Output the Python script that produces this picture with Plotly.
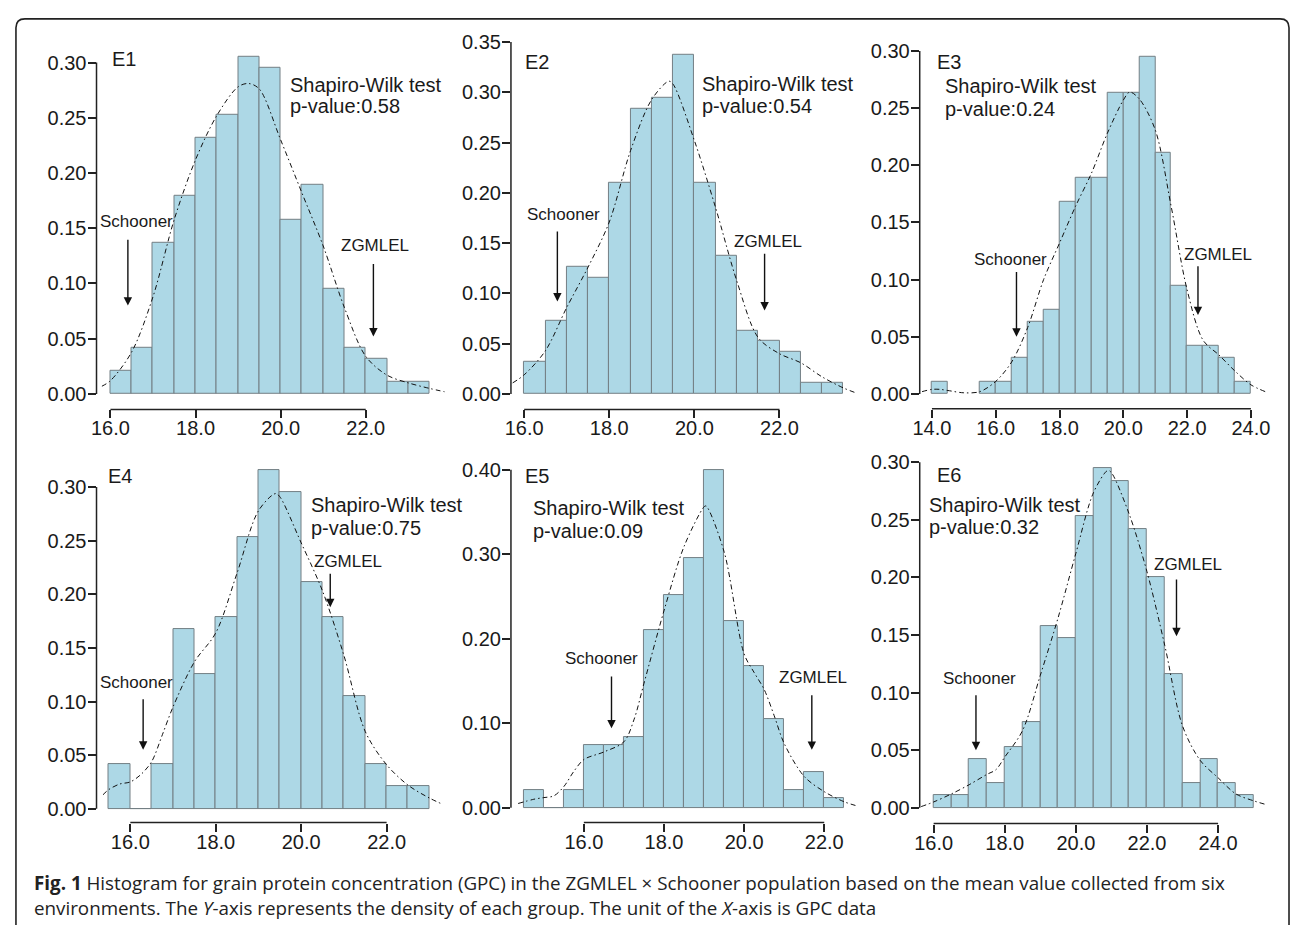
import plotly.graph_objects as go

# ---------------- data ----------------
BIN_WIDTH = 0.5

e1_bin_left = [16.0, 16.5, 17.0, 17.5, 18.0, 18.5, 19.0, 19.5, 20.0, 20.5, 21.0, 21.5, 22.0, 22.5, 23.0]
e1_density = [0.021, 0.042, 0.137, 0.179, 0.232, 0.253, 0.305, 0.295, 0.158, 0.189, 0.095, 0.042, 0.032, 0.011, 0.011]
e1_curve_x = [15.8, 16.0, 16.5, 17.0, 17.5, 18.0, 18.5, 19.0, 19.25, 19.5, 20.0, 20.5, 21.0, 21.5, 22.0, 22.5, 23.0, 23.5, 23.85]
e1_curve_y = [0.007, 0.012, 0.038, 0.088, 0.158, 0.212, 0.252, 0.278, 0.281, 0.276, 0.230, 0.182, 0.134, 0.078, 0.034, 0.017, 0.010, 0.005, 0.002]

e2_bin_left = [16.0, 16.5, 17.0, 17.5, 18.0, 18.5, 19.0, 19.5, 20.0, 20.5, 21.0, 21.5, 22.0, 22.5, 23.0]
e2_density = [0.032, 0.073, 0.126, 0.116, 0.210, 0.284, 0.295, 0.337, 0.210, 0.137, 0.063, 0.053, 0.042, 0.011, 0.011]
e2_curve_x = [15.73, 16.0, 16.5, 17.0, 17.5, 18.0, 18.5, 19.0, 19.4, 19.5, 20.0, 20.5, 21.0, 21.5, 22.0, 22.5, 23.0, 23.5, 23.8]
e2_curve_y = [0.011, 0.019, 0.043, 0.086, 0.126, 0.171, 0.242, 0.293, 0.311, 0.308, 0.252, 0.185, 0.112, 0.056, 0.040, 0.031, 0.017, 0.006, 0.001]

e3_bin_left = [14.0, 15.5, 16.0, 16.5, 17.0, 17.5, 18.0, 18.5, 19.0, 19.5, 20.0, 20.5, 21.0, 21.5, 22.0, 22.5, 23.0, 23.5]
e3_density = [0.011, 0.011, 0.011, 0.032, 0.063, 0.074, 0.168, 0.189, 0.189, 0.263, 0.263, 0.295, 0.211, 0.095, 0.042, 0.042, 0.032, 0.011]
e3_curve_x = [13.69, 14.0, 14.25, 14.5, 15.0, 15.5, 16.0, 16.5, 17.0, 17.5, 18.0, 18.5, 19.0, 19.5, 20.0, 20.2, 20.5, 21.0, 21.5, 22.0, 22.5, 23.0, 23.5, 24.0, 24.45]
e3_curve_y = [0.002, 0.004, 0.004, 0.003, 0.001, 0.002, 0.011, 0.028, 0.058, 0.100, 0.132, 0.164, 0.193, 0.228, 0.257, 0.264, 0.258, 0.231, 0.164, 0.091, 0.047, 0.034, 0.020, 0.008, 0.002]

e4_bin_left = [15.5, 16.0, 16.5, 17.0, 17.5, 18.0, 18.5, 19.0, 19.5, 20.0, 20.5, 21.0, 21.5, 22.0, 22.5]
e4_density = [0.042, 0.0, 0.042, 0.168, 0.126, 0.179, 0.253, 0.316, 0.295, 0.211, 0.179, 0.105, 0.042, 0.021, 0.021]
e4_curve_x = [15.36, 15.5, 15.75, 16.0, 16.25, 16.5, 16.75, 17.0, 17.5, 18.0, 18.5, 19.0, 19.4, 19.5, 20.0, 20.5, 21.0, 21.5, 22.0, 22.5, 23.0, 23.32]
e4_curve_y = [0.013, 0.018, 0.023, 0.025, 0.032, 0.044, 0.069, 0.095, 0.137, 0.164, 0.220, 0.278, 0.294, 0.291, 0.248, 0.203, 0.143, 0.072, 0.041, 0.022, 0.010, 0.004]

e5_bin_left = [14.5, 15.0, 15.5, 16.0, 16.5, 17.0, 17.5, 18.0, 18.5, 19.0, 19.5, 20.0, 20.5, 21.0, 21.5, 22.0]
e5_density = [0.021, 0.0, 0.021, 0.074, 0.074, 0.084, 0.210, 0.252, 0.295, 0.400, 0.221, 0.168, 0.105, 0.021, 0.042, 0.011]
e5_curve_x = [14.36, 14.75, 15.0, 15.25, 15.5, 15.75, 16.0, 16.5, 17.0, 17.25, 17.5, 18.0, 18.5, 19.0, 19.05, 19.5, 20.0, 20.25, 20.5, 20.75, 21.0, 21.5, 22.0, 22.5, 22.83]
e5_curve_y = [0.005, 0.010, 0.012, 0.014, 0.025, 0.043, 0.057, 0.066, 0.078, 0.104, 0.147, 0.233, 0.309, 0.356, 0.357, 0.303, 0.182, 0.160, 0.140, 0.109, 0.076, 0.037, 0.019, 0.007, 0.002]

e6_bin_left = [16.0, 16.5, 17.0, 17.5, 18.0, 18.5, 19.0, 19.5, 20.0, 20.5, 21.0, 21.5, 22.0, 22.5, 23.0, 23.5, 24.0, 24.5]
e6_density = [0.011, 0.011, 0.042, 0.021, 0.053, 0.074, 0.158, 0.147, 0.253, 0.295, 0.284, 0.242, 0.200, 0.116, 0.021, 0.042, 0.021, 0.011]
e6_curve_x = [15.65, 16.0, 16.5, 17.0, 17.5, 17.75, 18.0, 18.5, 19.0, 19.5, 20.0, 20.5, 20.9, 21.0, 21.5, 22.0, 22.5, 23.0, 23.5, 24.0, 24.5, 25.0, 25.32]
e6_curve_y = [0.001, 0.005, 0.012, 0.020, 0.029, 0.033, 0.044, 0.067, 0.115, 0.165, 0.221, 0.274, 0.293, 0.291, 0.255, 0.205, 0.141, 0.071, 0.041, 0.026, 0.012, 0.006, 0.003]

panel_names = ["E1", "E2", "E3", "E4", "E5", "E6"]
p_values = ["0.58", "0.54", "0.24", "0.75", "0.09", "0.32"]
x_ticks = [
    [16.0, 18.0, 20.0, 22.0],
    [16.0, 18.0, 20.0, 22.0],
    [14.0, 16.0, 18.0, 20.0, 22.0, 24.0],
    [16.0, 18.0, 20.0, 22.0],
    [16.0, 18.0, 20.0, 22.0],
    [16.0, 18.0, 20.0, 22.0, 24.0],
]
y_ticks = [
    [0.00, 0.05, 0.10, 0.15, 0.20, 0.25, 0.30],
    [0.00, 0.05, 0.10, 0.15, 0.20, 0.25, 0.30, 0.35],
    [0.00, 0.05, 0.10, 0.15, 0.20, 0.25, 0.30],
    [0.00, 0.05, 0.10, 0.15, 0.20, 0.25, 0.30],
    [0.00, 0.10, 0.20, 0.30, 0.40],
    [0.00, 0.05, 0.10, 0.15, 0.20, 0.25, 0.30],
]
bins = [e1_bin_left, e2_bin_left, e3_bin_left, e4_bin_left, e5_bin_left, e6_bin_left]
dens = [e1_density, e2_density, e3_density, e4_density, e5_density, e6_density]
curves_x = [e1_curve_x, e2_curve_x, e3_curve_x, e4_curve_x, e5_curve_x, e6_curve_x]
curves_y = [e1_curve_y, e2_curve_y, e3_curve_y, e4_curve_y, e5_curve_y, e6_curve_y]

caption_line1 = "<b>Fig. 1</b> Histogram for grain protein concentration (GPC) in the ZGMLEL × Schooner population based on the mean value collected from six"
caption_line2 = "environments. The <i>Y</i>-axis represents the density of each group. The unit of the <i>X</i>-axis is GPC data"

# ---------------- layout (pixel boxes and axis calibration) ----------------
W, H = 1290, 925
layout_cfg = [
    # box: (left, right, top, bottom) px ; xcal/ycal: (value_a, px_a, value_b, px_b)
    dict(box=(90, 446, 25, 405), xcal=(16, 104, 22, 360.7), ycal=(0, 389.3, 0.30, 55.0),
         label=(15.98, 0.303), sw=(20.18, 0.280, 0.261),
         sch_text=(16.61, 0.156), sch_arrow=(16.41, 0.141, 0.080),
         zg_text=(22.21, 0.134), zg_arrow=(22.18, 0.119, 0.052)),
    dict(box=(506.7, 862, 25, 405), xcal=(16, 520, 22, 776.7), ycal=(0, 389.3, 0.35, 34.3),
         label=(15.98, 0.330), sw=(20.14, 0.308, 0.286),
         sch_text=(16.93, 0.178), sch_arrow=(16.78, 0.163, 0.092),
         zg_text=(21.72, 0.152), zg_arrow=(21.65, 0.141, 0.083)),
    dict(box=(917.7, 1282, 25, 404.3), xcal=(14, 930, 24, 1250.7), ycal=(0, 389.3, 0.30, 43.3),
         label=(14.08, 0.290), sw=(14.36, 0.269, 0.249),
         sch_text=(16.45, 0.118), sch_arrow=(16.65, 0.108, 0.050),
         zg_text=(22.96, 0.122), zg_arrow=(22.34, 0.113, 0.069)),
    dict(box=(90, 446, 455, 821.7), xcal=(16, 124, 22, 381.7), ycal=(0, 807.7, 0.30, 483.3),
         label=(15.44, 0.310), sw=(20.18, 0.283, 0.2615),
         sch_text=(16.14, 0.118), sch_arrow=(16.30, 0.1036, 0.055),
         zg_text=(21.10, 0.2307), zg_arrow=(20.68, 0.2205, 0.188)),
    dict(box=(506.7, 862, 455, 821.7), xcal=(16, 580, 22, 821.7), ycal=(0, 806.7, 0.40, 465.7),
         label=(14.49, 0.393), sw=(14.69, 0.355, 0.328),
         sch_text=(16.44, 0.176), sch_arrow=(16.69, 0.157, 0.094),
         zg_text=(21.73, 0.1545), zg_arrow=(21.69, 0.135, 0.0685)),
    dict(box=(917.7, 1282, 455, 822.7), xcal=(16, 931.7, 24, 1217.7), ycal=(0, 806.7, 0.30, 458.3),
         label=(16.05, 0.289), sw=(15.81, 0.263, 0.244),
         sch_text=(17.28, 0.112), sch_arrow=(17.19, 0.099, 0.050),
         zg_text=(23.15, 0.211), zg_arrow=(22.83, 0.1996, 0.149)),
]


def rng(p_lo, p_hi, cal):
    va, pa, vb, pb = cal
    s = (vb - va) / (pb - pa)
    return [va + (p_lo - pa) * s, va + (p_hi - pa) * s]


TEXT = "#1a1a1a"
AXIS = "#222222"
SANS = "Liberation Sans, Arial, sans-serif"

fig = go.Figure()
annotations = []
shapes = []
layout = {}

for i in range(6):
    cfg = layout_cfg[i]
    n = "" if i == 0 else str(i + 1)
    xa, ya = "x" + n, "y" + n
    L, R, T, B = cfg["box"]

    fig.add_trace(go.Bar(
        x=bins[i], y=dens[i], width=BIN_WIDTH, offset=0,
        marker=dict(color="#ADD8E6", line=dict(color="#737f84", width=1)),
        xaxis=xa, yaxis=ya, showlegend=False, hoverinfo="skip"))
    fig.add_trace(go.Scatter(
        x=curves_x[i], y=curves_y[i], mode="lines",
        line=dict(color="#111111", width=1, dash="5px,3px,1.5px,3px", shape="spline", smoothing=0.9),
        xaxis=xa, yaxis=ya, showlegend=False, hoverinfo="skip"))

    layout["xaxis" + n] = dict(
        domain=[L / W, R / W], range=rng(L, R, cfg["xcal"]), anchor=ya,
        tickmode="array", tickvals=x_ticks[i], ticktext=[f"{v:.1f}" for v in x_ticks[i]],
        ticks="outside", ticklen=8, tickwidth=1.5, tickcolor=AXIS, ticklabelstandoff=-7,
        showline=False, showgrid=False, zeroline=False,
        tickfont=dict(family=SANS, size=20, color=TEXT), fixedrange=True)
    layout["yaxis" + n] = dict(
        domain=[1 - B / H, 1 - T / H], range=rng(B, T, cfg["ycal"]), anchor=xa,
        tickmode="array", tickvals=y_ticks[i], ticktext=[f"{v:.2f}" for v in y_ticks[i]],
        ticks="outside", ticklen=8, tickwidth=1.5, tickcolor=AXIS, ticklabelstandoff=-3,
        showline=False, showgrid=False, zeroline=False,
        tickfont=dict(family=SANS, size=20, color=TEXT), fixedrange=True)

    # R-style axis lines spanning first..last tick
    shapes.append(dict(type="line", xref=xa + " domain", yref=ya,
                       x0=0, x1=0, y0=y_ticks[i][0], y1=y_ticks[i][-1],
                       line=dict(color=AXIS, width=1.5)))
    shapes.append(dict(type="line", xref=xa, yref=ya + " domain",
                       x0=x_ticks[i][0], x1=x_ticks[i][-1], y0=0, y1=0,
                       line=dict(color=AXIS, width=1.5)))

    # panel label
    annotations.append(dict(xref=xa, yref=ya, x=cfg["label"][0], y=cfg["label"][1],
                            text=panel_names[i], showarrow=False, xanchor="left", yanchor="middle",
                            font=dict(family=SANS, size=20, color=TEXT)))
    # Shapiro-Wilk text
    sx, sy1, sy2 = cfg["sw"]
    annotations.append(dict(xref=xa, yref=ya, x=sx, y=sy1, text="Shapiro-Wilk test",
                            showarrow=False, xanchor="left", yanchor="middle",
                            font=dict(family=SANS, size=20, color=TEXT)))
    annotations.append(dict(xref=xa, yref=ya, x=sx, y=sy2, text="p-value:" + p_values[i],
                            showarrow=False, xanchor="left", yanchor="middle",
                            font=dict(family=SANS, size=20, color=TEXT)))
    # parent labels + arrows
    for key_t, key_a, txt in (("sch_text", "sch_arrow", "Schooner"), ("zg_text", "zg_arrow", "ZGMLEL")):
        tx, ty = cfg[key_t]
        annotations.append(dict(xref=xa, yref=ya, x=tx, y=ty, text=txt, showarrow=False,
                                xanchor="center", yanchor="middle",
                                font=dict(family=SANS, size=17, color=TEXT)))
        ax_, ay0, ay1 = cfg[key_a]
        annotations.append(dict(xref=xa, yref=ya, x=ax_, y=ay1, axref=xa, ayref=ya,
                                ax=ax_, ay=ay0, text="", showarrow=True,
                                arrowhead=2, arrowsize=1.2, arrowwidth=1.4, arrowcolor="#111111",
                                standoff=0, startstandoff=0))

# caption
CAP_FONT = dict(family="Open Sans, sans-serif", size=18.8, color="#222222")
annotations.append(dict(xref="paper", yref="paper", x=25 / W, y=1 - 883 / H, text=caption_line1,
                        showarrow=False, xanchor="left", yanchor="middle", font=CAP_FONT))
annotations.append(dict(xref="paper", yref="paper", x=25 / W, y=1 - 908 / H, text=caption_line2,
                        showarrow=False, xanchor="left", yanchor="middle", font=CAP_FONT))

# rounded outer frame of the figure
shapes.append(dict(type="path", xref="paper", yref="paper",
                   path=(f"M {9/W},0 L {9/W},{1-20/H} Q {9/W},{1-11/H} {18/W},{1-11/H} "
                         f"L {1280/W},{1-11/H} Q {1289/W},{1-11/H} {1289/W},{1-20/H} L {1289/W},0"),
                   line=dict(color="#222222", width=1.6)))

fig.update_layout(
    width=W, height=H, margin=dict(l=0, r=0, t=0, b=0),
    paper_bgcolor="white", plot_bgcolor="rgba(0,0,0,0)",
    bargap=0, annotations=annotations, shapes=shapes, **layout)

fig.write_html("out.html", config={"displayModeBar": False},
               post_script="document.body.style.margin='0px';document.body.style.overflow='hidden';")
